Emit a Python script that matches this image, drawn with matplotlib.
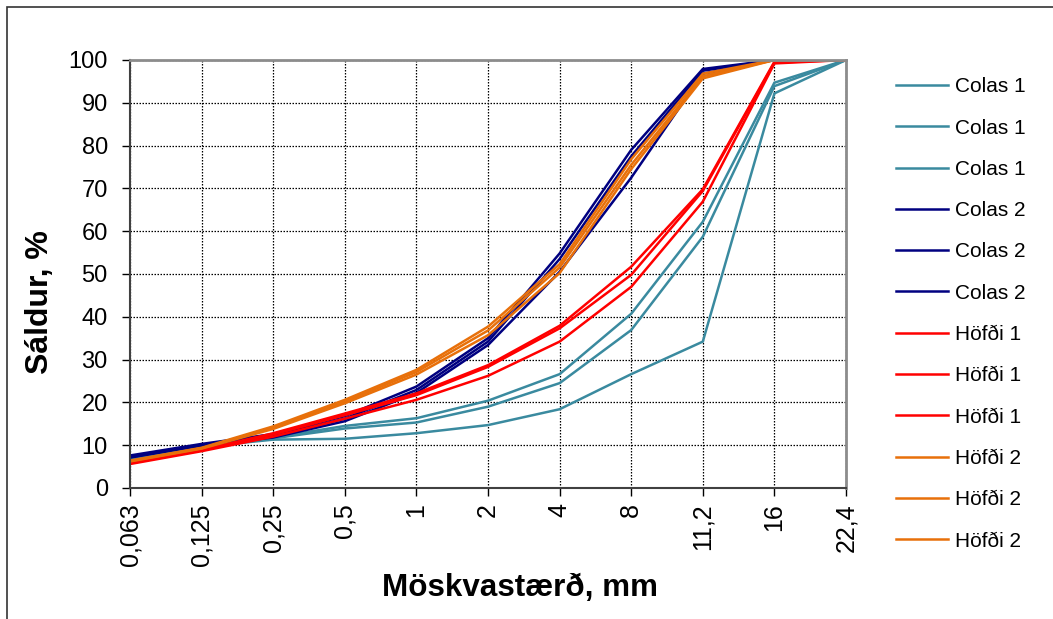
import matplotlib
matplotlib.use("Agg")
import matplotlib.pyplot as plt
from matplotlib.patches import Rectangle

plt.rcParams['font.family'] = ['Liberation Sans', 'DejaVu Sans']

# Sieve sizes (mm) used as category labels
sieve_labels = ["0,063", "0,125", "0,25", "0,5", "1", "2", "4", "8", "11,2", "16", "22,4"]

# Passing percentage per sample
colas1_a = [7.0, 10.0, 11.8, 14.5, 16.3, 20.4, 26.6, 40.7, 62.2, 94.7, 100]
colas1_b = [6.9, 9.8, 11.6, 13.9, 15.3, 19.0, 24.5, 36.9, 58.7, 93.9, 100]
colas1_c = [6.8, 9.6, 11.3, 11.5, 12.8, 14.7, 18.4, 26.6, 34.2, 92.2, 100]

colas2_a = [7.6, 10.3, 12.6, 16.8, 23.7, 35.0, 54.8, 79.0, 97.9, 100, 100]
colas2_b = [7.3, 10.1, 12.2, 16.2, 22.9, 34.2, 53.5, 77.5, 97.5, 100, 100]
colas2_c = [7.1, 9.9, 11.8, 15.6, 22.2, 33.4, 50.5, 72.5, 96.8, 100, 100]

hofdi1_a = [5.9, 8.9, 12.8, 17.4, 22.1, 28.7, 37.9, 51.7, 69.8, 99.6, 100]
hofdi1_b = [5.8, 8.8, 12.5, 17.0, 21.7, 28.3, 37.3, 49.8, 69.4, 99.4, 100]
hofdi1_c = [5.6, 8.6, 12.0, 16.2, 20.6, 26.2, 34.2, 47.0, 66.9, 99.2, 100]

hofdi2_a = [6.4, 9.4, 14.4, 20.6, 27.6, 37.7, 52.3, 76.8, 96.8, 100, 100]
hofdi2_b = [6.3, 9.3, 14.1, 20.2, 27.1, 36.8, 51.5, 75.5, 96.2, 100, 100]
hofdi2_c = [6.2, 9.2, 13.8, 19.8, 26.5, 35.7, 50.2, 74.5, 95.7, 100, 100]

series = [
    ("Colas 1", colas1_a, "#3A8A9F"),
    ("Colas 1", colas1_b, "#3A8A9F"),
    ("Colas 1", colas1_c, "#3A8A9F"),
    ("Colas 2", colas2_a, "#000080"),
    ("Colas 2", colas2_b, "#000080"),
    ("Colas 2", colas2_c, "#000080"),
    ("Höfði 1", hofdi1_a, "#FF0000"),
    ("Höfði 1", hofdi1_b, "#FF0000"),
    ("Höfði 1", hofdi1_c, "#FF0000"),
    ("Höfði 2", hofdi2_a, "#E8700A"),
    ("Höfði 2", hofdi2_b, "#E8700A"),
    ("Höfði 2", hofdi2_c, "#E8700A"),
]

W, H = 1053, 619
fig = plt.figure(figsize=(W / 100, H / 100), dpi=100)
ax = fig.add_axes([130 / W, 1 - 488 / H, (846 - 130) / W, (488 - 60) / H])

x = list(range(len(sieve_labels)))
handles = []
for name, vals, col in series:
    ln, = ax.plot(x, vals, color=col, lw=1.8, label=name, solid_joinstyle='miter')
    handles.append(ln)

ax.set_xlim(0, len(sieve_labels) - 1)
ax.set_ylim(0, 100)
ax.set_yticks(range(0, 101, 10))
ax.set_xticks(x)
ax.set_xticklabels(sieve_labels, rotation=90, fontsize=18)
ax.tick_params(axis='y', labelsize=17, direction='out', length=6, width=1, pad=10)
ax.tick_params(axis='x', direction='out', length=6, width=1, pad=5)

ax.grid(True, color='black', linestyle=(0, (1.2, 1.2)), linewidth=0.9)
ax.set_axisbelow(True)

for side in ('top', 'right'):
    ax.spines[side].set_color('#8C8C8C')
    ax.spines[side].set_linewidth(2)
for side in ('left', 'bottom'):
    ax.spines[side].set_color('#404040')
    ax.spines[side].set_linewidth(1.5)

fig.text(40 / W, 1 - 302 / H, "Sáldur, %", rotation=90, fontsize=23,
         fontweight='bold', ha='center', va='center')
fig.text(520 / W, 1 - 588 / H, "Möskvastærð, mm", fontsize=22.6,
         fontweight='bold', ha='center', va='center')

leg = fig.legend(handles=handles, loc='upper left',
                 bbox_to_anchor=(888 / W, 1 - 69 / H), frameon=False,
                 fontsize=15, handlelength=2.5, handletextpad=0.3,
                 labelspacing=1.07, borderaxespad=0)

# outer chart border
fig.patches.append(Rectangle((7 / W, -0.05), 1.1, 1 - 7 / H + 0.05,
                             transform=fig.transFigure, fill=False,
                             edgecolor='#333333', linewidth=1.2))

fig.savefig("out.png", dpi=100)
